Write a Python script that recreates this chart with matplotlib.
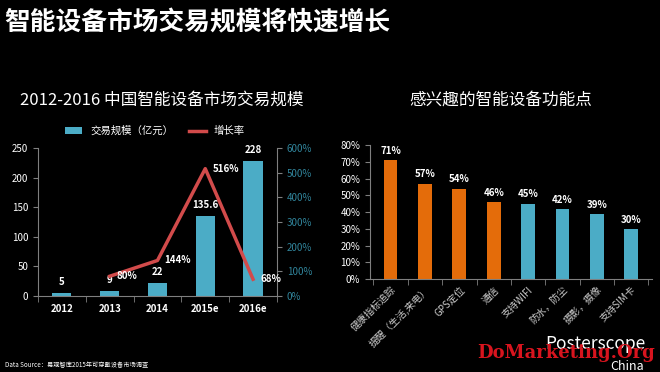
import numpy as np
import matplotlib
matplotlib.use('Agg')
import matplotlib.pyplot as plt
from matplotlib.lines import Line2D
from matplotlib.patches import Patch

plt.rcParams['font.family'] = ['Noto Sans CJK SC', 'DejaVu Sans']

# data
years = ['2012', '2013', '2014', '2015e', '2016e']
market_size = [5, 9, 22, 135.6, 228]
size_labels = ['5', '9', '22', '135.6', '228']
growth = [None, 80, 144, 516, 68]

features = ['健康指标追踪', '提醒（生活,来电）', 'GPS定位', '通信',
            '支持WIFI', '防水，防尘', '摄影，摄像', '支持SIM卡']
interest = [71, 57, 54, 46, 45, 42, 39, 30]
highlight = [True, True, True, True, False, False, False, False]

BLUE = '#4bacc6'
ORANGE = '#e46c0a'
RED = '#d24b4b'
TEAL = '#31859c'
GREY = '#7f7f7f'

fig = plt.figure(figsize=(6.6, 3.72), dpi=100, facecolor='black')

fig.text(0.006, 0.975, '智能设备市场交易规模将快速增长', color='white',
         fontsize=18.5, fontweight='bold', va='top', ha='left')
fig.text(0.03, 0.73, '2012-2016 中国智能设备市场交易规模', color='white',
         fontsize=12, va='center', ha='left')
fig.text(0.62, 0.73, '感兴趣的智能设备功能点', color='white',
         fontsize=12, va='center', ha='left')


def style_axes(ax):
    ax.set_facecolor('black')
    for s in ['top', 'right']:
        ax.spines[s].set_visible(False)
    for s in ['left', 'bottom']:
        ax.spines[s].set_color(GREY)
    ax.tick_params(colors=GREY, labelcolor='white', labelsize=7)


# left chart
ax1 = fig.add_axes([0.0576, 0.2043, 0.362, 0.398])
style_axes(ax1)
x = np.arange(len(years))
bars = ax1.bar(x, market_size, width=0.4, color=BLUE)
ax1.set_xlim(-0.5, len(years) - 0.5)
ax1.set_ylim(0, 250)
ax1.set_yticks(range(0, 251, 50))
ax1.set_xticks(x)
ax1.set_xticklabels(years, fontweight='bold')
ax1.set_xticks(np.arange(-0.5, len(years), 1), minor=True)
ax1.tick_params(axis='x', which='major', length=0, pad=6)
ax1.tick_params(axis='x', which='minor', length=4, color=GREY)
for xi, v, lab in zip(x, market_size, size_labels):
    ax1.text(xi, v + 10, lab, color='white', fontsize=7, fontweight='bold',
             ha='center', va='bottom')

ax2 = ax1.twinx()
ax2.set_facecolor('none')
for s in ['top', 'left', 'bottom']:
    ax2.spines[s].set_visible(False)
ax2.spines['right'].set_color(GREY)
gx = [xi for xi, g in zip(x, growth) if g is not None]
gy = [g for g in growth if g is not None]
ax2.plot(gx, gy, color=RED, lw=2.5)
ax2.set_ylim(0, 600)
ax2.set_yticks(range(0, 601, 100))
ax2.set_yticklabels([f'{v}%' for v in range(0, 601, 100)])
ax2.tick_params(axis='y', colors=GREY, labelcolor=TEAL, labelsize=7)
for xi, g in zip(gx, gy):
    ax2.text(xi + 0.15, g, f'{g}%', color='white', fontsize=7,
             fontweight='bold', ha='left', va='center')

handles = [Patch(facecolor=BLUE, label='交易规模（亿元）'),
           Line2D([0], [0], color=RED, lw=2.5, label='增长率')]
fig.legend(handles=handles, loc='center', bbox_to_anchor=(0.235, 0.648),
           ncol=2, frameon=False, fontsize=7.5, labelcolor='white',
           handlelength=1.6, handleheight=0.6, columnspacing=1.5)

# right chart
ax3 = fig.add_axes([0.5606, 0.25, 0.427, 0.36])
style_axes(ax3)
xf = np.arange(len(features))
colors = [ORANGE if h else BLUE for h in highlight]
ax3.bar(xf, interest, width=0.4, color=colors)
ax3.set_xlim(-0.6, len(features) - 0.4)
ax3.set_ylim(0, 80)
ax3.set_yticks(range(0, 81, 10))
ax3.set_yticklabels([f'{v}%' for v in range(0, 81, 10)])
ax3.set_xticks(xf)
ax3.set_xticklabels(features, rotation=45, ha='right', rotation_mode='anchor',
                    color='#cccccc', fontsize=7)
ax3.set_xticks(np.arange(-0.5, len(features), 1), minor=True)
ax3.tick_params(axis='x', which='major', length=0, pad=4)
ax3.tick_params(axis='x', which='minor', length=4, color=GREY)
for xi, v in zip(xf, interest):
    ax3.text(xi, v + 2.5, f'{v}%', color='white', fontsize=7,
             fontweight='bold', ha='center', va='bottom')

# footer
fig.text(0.008, 0.008, 'Data Source：易观智库2015年可穿戴设备市场调查',
         color='white', fontsize=4.5, ha='left', va='bottom')
fig.text(0.978, 0.075, 'Posterscope', color='white', fontsize=12.5,
         ha='right', va='center')
fig.text(0.975, 0.015, 'China', color='white', fontsize=9,
         ha='right', va='center')
fig.text(0.992, 0.052, 'DoMarketing.Org', color='#d8141e', fontsize=13,
         fontweight='bold', family=['DejaVu Serif'], ha='right', va='center')

fig.savefig('out.png', dpi=100, facecolor='black')
